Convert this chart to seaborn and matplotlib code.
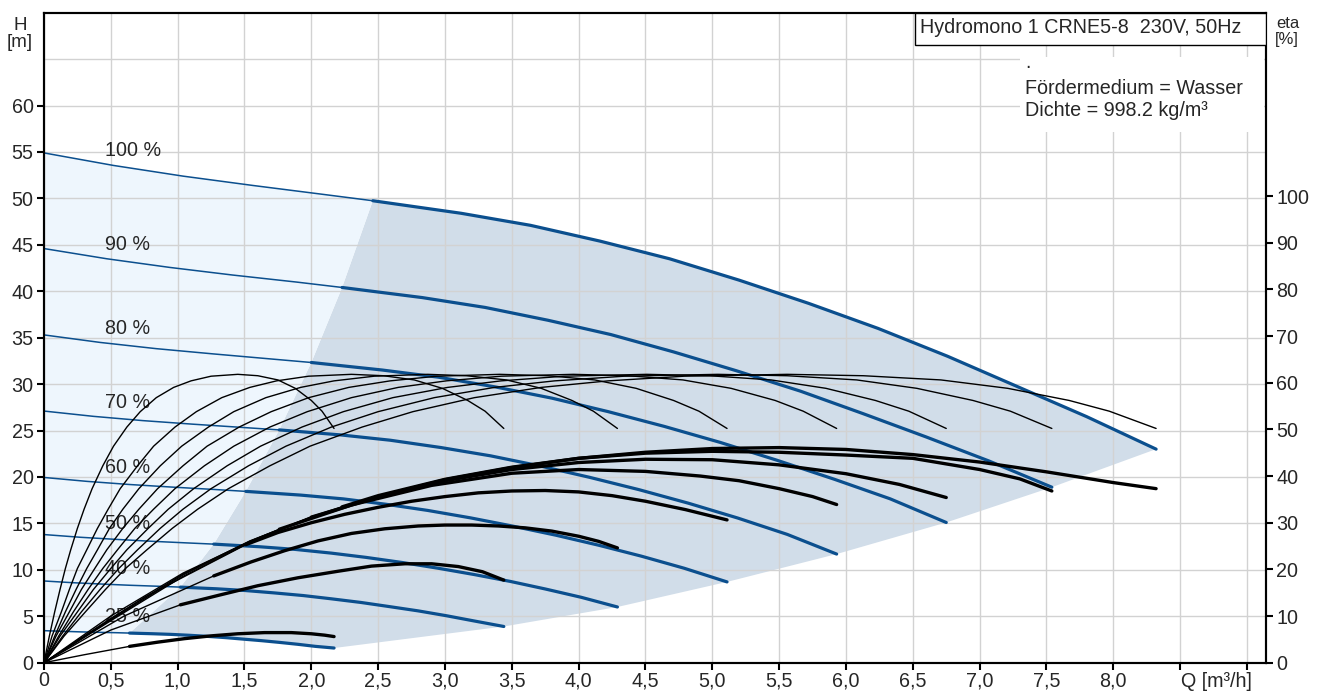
import numpy as np
import matplotlib
matplotlib.use('Agg')
import matplotlib.pyplot as plt
import seaborn as sns
from matplotlib.patches import Rectangle

speeds = ['100 %', '90 %', '80 %', '70 %', '60 %', '50 %', '40 %', '25 %']

# pump head H [m] over Q [m3/h]; 6th point is where the bold (allowed) part begins
q_h100 = [0, 0.52, 1.04, 1.56, 2.08, 2.46, 3.12, 3.64, 4.16, 4.68, 5.20, 5.72, 6.24, 6.76, 7.28, 7.80, 8.32]
h_100 = [54.9, 53.55, 52.4, 51.4, 50.45, 49.75, 48.4, 47.1, 45.4, 43.5, 41.2, 38.7, 36.0, 33.0, 29.75, 26.5, 23.0]
q_h90 = [0, 0.47, 0.94, 1.41, 1.89, 2.23, 2.83, 3.30, 3.77, 4.24, 4.71, 5.18, 5.66, 6.13, 6.60, 7.07, 7.54]
h_90 = [44.6, 43.5, 42.57, 41.75, 40.99, 40.41, 39.32, 38.26, 36.88, 35.34, 33.47, 31.44, 29.24, 26.81, 24.31, 21.72, 18.9]
q_h80 = [0, 0.42, 0.84, 1.27, 1.69, 2.00, 2.53, 2.95, 3.38, 3.80, 4.22, 4.64, 5.06, 5.48, 5.91, 6.33, 6.75]
h_80 = [35.3, 34.49, 33.82, 33.25, 32.72, 32.33, 31.52, 30.75, 29.69, 28.49, 27.04, 25.45, 23.72, 21.82, 19.77, 17.65, 15.1]
q_h70 = [0, 0.37, 0.74, 1.11, 1.48, 1.76, 2.22, 2.59, 2.97, 3.34, 3.71, 4.08, 4.45, 4.82, 5.19, 5.56, 5.93]
h_70 = [27.1, 26.53, 26.07, 25.69, 25.34, 25.07, 24.53, 23.96, 23.17, 22.28, 21.19, 19.97, 18.64, 17.18, 15.58, 13.82, 11.7]
q_h60 = [0, 0.32, 0.64, 0.96, 1.28, 1.51, 1.92, 2.24, 2.56, 2.87, 3.19, 3.51, 3.83, 4.15, 4.47, 4.79, 5.11]
h_60 = [19.95, 19.53, 19.19, 18.91, 18.65, 18.45, 18.05, 17.64, 17.06, 16.40, 15.60, 14.70, 13.73, 12.65, 11.47, 10.17, 8.7]
q_h50 = [0, 0.27, 0.54, 0.80, 1.07, 1.27, 1.61, 1.88, 2.15, 2.41, 2.68, 2.95, 3.22, 3.49, 3.75, 4.02, 4.29]
h_50 = [13.8, 13.51, 13.28, 13.08, 12.90, 12.77, 12.49, 12.20, 11.80, 11.34, 10.79, 10.17, 9.49, 8.75, 7.94, 7.04, 6.0]
q_h40 = [0, 0.21, 0.43, 0.64, 0.86, 1.02, 1.29, 1.50, 1.72, 1.94, 2.15, 2.37, 2.58, 2.80, 3.01, 3.22, 3.44]
h_40 = [8.8, 8.62, 8.47, 8.34, 8.23, 8.14, 7.96, 7.78, 7.52, 7.23, 6.88, 6.49, 6.05, 5.58, 5.06, 4.49, 3.9]
q_h25 = [0, 0.14, 0.27, 0.41, 0.54, 0.64, 0.81, 0.95, 1.09, 1.22, 1.36, 1.49, 1.63, 1.76, 1.90, 2.03, 2.17]
h_25 = [3.45, 3.38, 3.32, 3.27, 3.23, 3.19, 3.12, 3.05, 2.95, 2.84, 2.70, 2.54, 2.37, 2.19, 1.98, 1.76, 1.58]

# pump efficiency eta [%] (thin black), same eta levels for every speed
eta_pump = [0, 5.7, 10.9, 15.7, 20.2, 24.2, 28.8, 32.9, 37.3, 42.2, 46.4, 50.5,
            53.8, 56.8, 59.0, 60.4, 61.4, 61.8, 61.5, 60.6, 58.8, 56.2, 53.9, 50.2]
q_p100 = [0, 0.15, 0.31, 0.46, 0.61, 0.77, 0.96, 1.15, 1.38, 1.69, 1.99, 2.38,
          2.76, 3.22, 3.72, 4.22, 4.79, 5.56, 6.13, 6.71, 7.21, 7.67, 7.97, 8.32]
q_p90 = [0, 0.14, 0.28, 0.42, 0.56, 0.70, 0.87, 1.04, 1.25, 1.53, 1.81, 2.15,
         2.50, 2.92, 3.37, 3.82, 4.34, 5.04, 5.56, 6.08, 6.53, 6.95, 7.23, 7.54]
q_p80 = [0, 0.12, 0.25, 0.37, 0.50, 0.62, 0.78, 0.93, 1.12, 1.37, 1.62, 1.93,
         2.24, 2.61, 3.02, 3.42, 3.89, 4.51, 4.98, 5.44, 5.85, 6.22, 6.47, 6.75]
q_p70 = [0, 0.11, 0.22, 0.33, 0.44, 0.55, 0.68, 0.82, 0.98, 1.20, 1.42, 1.69,
         1.97, 2.30, 2.65, 3.01, 3.42, 3.96, 4.37, 4.78, 5.14, 5.47, 5.68, 5.93]
q_p60 = [0, 0.09, 0.19, 0.28, 0.38, 0.47, 0.59, 0.71, 0.85, 1.04, 1.22, 1.46,
         1.70, 1.98, 2.28, 2.59, 2.94, 3.41, 3.77, 4.12, 4.43, 4.71, 4.90, 5.11]
q_p50 = [0, 0.08, 0.16, 0.24, 0.32, 0.40, 0.49, 0.59, 0.71, 0.87, 1.03, 1.23,
         1.42, 1.66, 1.92, 2.17, 2.47, 2.87, 3.16, 3.46, 3.72, 3.95, 4.11, 4.29]
q_p40 = [0, 0.06, 0.13, 0.19, 0.25, 0.32, 0.40, 0.48, 0.57, 0.70, 0.82, 0.98,
         1.14, 1.33, 1.54, 1.74, 1.98, 2.30, 2.54, 2.77, 2.98, 3.17, 3.30, 3.44]
q_p25 = [0, 0.04, 0.08, 0.12, 0.16, 0.20, 0.25, 0.30, 0.36, 0.44, 0.52, 0.62,
         0.72, 0.84, 0.97, 1.10, 1.25, 1.45, 1.60, 1.75, 1.88, 2.00, 2.08, 2.17]

# total efficiency eta [%] (bold black)
q_t100 = [0, 0.5, 1.04, 1.54, 2.0, 2.46, 3.0, 3.5, 4.0, 4.5, 5.0, 5.5, 6.0, 6.5, 7.0, 7.5, 8.0, 8.32]
eta_t100 = [0, 9.0, 18.5, 25.8, 31.2, 35.3, 39.2, 41.8, 43.8, 45.1, 45.9, 46.1, 45.7, 44.6, 43.0, 40.9, 38.6, 37.3]
q_t90 = [0, 0.5, 1.04, 1.54, 2.0, 2.23, 2.5, 3.0, 3.5, 4.0, 4.5, 5.0, 5.5, 6.0, 6.5, 7.0, 7.3, 7.54]
eta_t90 = [0, 9.2, 18.8, 26.0, 31.3, 33.4, 35.8, 39.3, 41.9, 43.8, 44.9, 45.3, 45.1, 44.5, 43.8, 41.4, 39.4, 36.8]
q_t80 = [0, 0.5, 1.04, 1.54, 2.0, 2.5, 3.0, 3.5, 4.0, 4.5, 5.0, 5.5, 6.0, 6.4, 6.75]
eta_t80 = [0, 9.5, 19.0, 26.1, 31.2, 35.5, 39.0, 41.4, 42.9, 43.6, 43.5, 42.4, 40.5, 38.2, 35.4]
q_t70 = [0, 0.5, 1.04, 1.54, 1.76, 2.3, 2.9, 3.5, 4.0, 4.5, 4.91, 5.2, 5.5, 5.75, 5.93]
eta_t70 = [0, 10, 19.2, 26.0, 28.6, 33.8, 38.0, 40.6, 41.4, 41.0, 40.0, 39.0, 37.3, 35.6, 33.9]
q_t60 = [0, 0.75, 1.51, 1.75, 2.0, 2.25, 2.5, 2.75, 3.0, 3.25, 3.5, 3.75, 4.0, 4.25, 4.5, 4.8, 5.11]
eta_t60 = [0, 14, 25.3, 27.9, 30.0, 31.8, 33.3, 34.6, 35.6, 36.4, 36.8, 36.9, 36.6, 35.8, 34.6, 32.8, 30.6]
q_t50 = [0, 0.6, 1.27, 1.55, 1.8, 2.05, 2.3, 2.55, 2.8, 3.0, 3.2, 3.4, 3.6, 3.8, 4.0, 4.15, 4.29]
eta_t50 = [0, 10, 18.6, 21.6, 24.0, 26.1, 27.7, 28.7, 29.3, 29.5, 29.5, 29.3, 28.9, 28.2, 27.1, 26.0, 24.6]
q_t40 = [0, 0.5, 1.02, 1.3, 1.6, 1.9, 2.2, 2.45, 2.7, 2.9, 3.1, 3.28, 3.44]
eta_t40 = [0, 7.0, 12.4, 14.4, 16.5, 18.2, 19.6, 20.7, 21.2, 21.2, 20.6, 19.5, 17.7]
q_t25 = [0, 0.3, 0.64, 0.85, 1.05, 1.25, 1.45, 1.65, 1.85, 2.0, 2.1, 2.17]
eta_t25 = [0, 1.7, 3.5, 4.4, 5.15, 5.75, 6.2, 6.45, 6.45, 6.2, 5.9, 5.6]

x_ticks = [0, 0.5, 1.0, 1.5, 2.0, 2.5, 3.0, 3.5, 4.0, 4.5, 5.0, 5.5, 6.0, 6.5, 7.0, 7.5, 8.0, 8.5, 9.0]
x_labels = ['0', '0,5', '1,0', '1,5', '2,0', '2,5', '3,0', '3,5', '4,0', '4,5', '5,0',
            '5,5', '6,0', '6,5', '7,0', '7,5', '8,0', '', '']
h_ticks = [0, 5, 10, 15, 20, 25, 30, 35, 40, 45, 50, 55, 60]
eta_ticks = [0, 10, 20, 30, 40, 50, 60, 70, 80, 90, 100]

head = [(q_h100, h_100), (q_h90, h_90), (q_h80, h_80), (q_h70, h_70),
        (q_h60, h_60), (q_h50, h_50), (q_h40, h_40), (q_h25, h_25)]
pump = [q_p100, q_p90, q_p80, q_p70, q_p60, q_p50, q_p40, q_p25]
total = [(q_t100, eta_t100), (q_t90, eta_t90), (q_t80, eta_t80), (q_t70, eta_t70),
         (q_t60, eta_t60), (q_t50, eta_t50), (q_t40, eta_t40), (q_t25, eta_t25)]

sns.set_theme(style='white')
plt.rcParams['font.family'] = ['Liberation Sans', 'DejaVu Sans']
fs = 14.2

blue = '#0b4f8e'
W, H = 1318, 691
S = 5  # index of first point of the bold part
fig = plt.figure(figsize=(W / 100, H / 100), dpi=100)
ax = fig.add_axes([44 / W, 1 - 662.7 / H, 1221.7 / W, 650 / H])
ax.set_xlim(0, 9.14)
ax.set_ylim(0, 70)

# shaded areas
q100, hh100 = np.array(q_h100), np.array(h_100)
q25, hh25 = np.array(q_h25), np.array(h_25)
dark_x = list(q100[S:]) + [q[-1] for q, h in head[1:]] + list(q25[S:][::-1]) + [q[S] for q, h in head[1:-1][::-1]]
dark_y = list(hh100[S:]) + [h[-1] for q, h in head[1:]] + list(hh25[S:][::-1]) + [h[S] for q, h in head[1:-1][::-1]]
ax.fill(dark_x, dark_y, color='#d1dde9', lw=0, zorder=1)
light_x = list(q100[:S + 1]) + [q[S] for q, h in head[1:]] + list(q25[:S + 1][::-1])
light_y = list(hh100[:S + 1]) + [h[S] for q, h in head[1:]] + list(hh25[:S + 1][::-1])
ax.fill(light_x, light_y, color='#eef6fd', lw=0, zorder=1)

ax.grid(True, color='#d2d2d2', lw=1.0)
ax.set_axisbelow('line')

# head curves
for (q, h), name in zip(head, speeds):
    sns.lineplot(x=q[:S + 1], y=h[:S + 1], ax=ax, color=blue, lw=1.1, sort=False, estimator=None, legend=False)
    sns.lineplot(x=q[S:], y=h[S:], ax=ax, color=blue, lw=2.3, sort=False, estimator=None, legend=False)
    ax.text(0.46, np.interp(0.55, q, h) + 1.7, name, ha='left', va='center', fontsize=fs, zorder=6)

ax2 = ax.twinx()
ax2.set_ylim(0, 139.3)
ax2.grid(False)

for qp in pump:
    sns.lineplot(x=qp, y=eta_pump, ax=ax2, color='black', lw=1.0, sort=False, estimator=None, legend=False)

for (q, e), (qh, hh) in zip(total, head):
    q = np.array(q)
    e = np.array(e)
    start = qh[S]
    thin = q <= start + 1e-9
    thick = q >= start - 1e-9
    sns.lineplot(x=q[thin], y=e[thin], ax=ax2, color='black', lw=1.0, sort=False, estimator=None, legend=False)
    sns.lineplot(x=q[thick], y=e[thick], ax=ax2, color='black', lw=2.4, sort=False, estimator=None, legend=False)

ax.set_xticks(x_ticks)
ax.set_xticklabels(x_labels)
ax.set_yticks(h_ticks)
ax.set_yticks([65], minor=True)
ax.grid(True, which='minor', axis='y', color='#d2d2d2', lw=1.0)
ax2.set_yticks(eta_ticks)
ax.set_xlabel('')
ax.set_ylabel('')
ax2.set_ylabel('')

ax.tick_params(axis='both', which='major', direction='out', length=5, width=1.5, color='black',
               labelsize=fs, bottom=True, left=True, pad=2.5)
ax.tick_params(axis='x', pad=1)
ax.tick_params(axis='y', which='minor', length=0)
ax2.tick_params(axis='y', direction='out', length=5, width=1.5, color='black', labelsize=fs,
                right=True, labelright=True, pad=2.5)
for a in (ax, ax2):
    for s in a.spines.values():
        s.set_visible(True)
        s.set_color('black')
        s.set_linewidth(1.5)

ax.text(8.77, -0.0138, 'Q [m³/h]', transform=ax.get_xaxis_transform(), ha='center', va='top', fontsize=fs)

# info boxes
ax2.add_patch(Rectangle((0.713, 0.950), 0.287, 0.05, transform=ax2.transAxes, facecolor='white',
                        edgecolor='black', lw=1.0, zorder=5))
ax2.text(0.717, 0.9692, 'Hydromono 1 CRNE5-8  230V, 50Hz', transform=ax2.transAxes,
         ha='left', va='baseline', fontsize=fs, zorder=6)
ax2.add_patch(Rectangle((0.799, 0.8165), 0.2, 0.1155, transform=ax2.transAxes, facecolor='white',
                        edgecolor='none', zorder=5))
ax2.text(0.803, 0.9154, '.', transform=ax2.transAxes, va='baseline', fontsize=fs, zorder=6)
ax2.text(0.803, 0.8745, 'Fördermedium = Wasser', transform=ax2.transAxes, va='baseline', fontsize=fs, zorder=6)
ax2.text(0.803, 0.841, 'Dichte = 998.2 kg/m³', transform=ax2.transAxes, va='baseline', fontsize=fs, zorder=6)

fig.text(20 / W, 1 - 29.5 / H, 'H', ha='center', va='baseline', fontsize=13.5)
fig.text(20 / W, 1 - 47 / H, '[m]', ha='center', va='baseline', fontsize=13.5)
fig.text(1276 / W, 1 - 27.5 / H, 'eta', ha='left', va='baseline', fontsize=12)
fig.text(1275 / W, 1 - 44 / H, '[%]', ha='left', va='baseline', fontsize=12)

fig.savefig('out.png', dpi=100)
